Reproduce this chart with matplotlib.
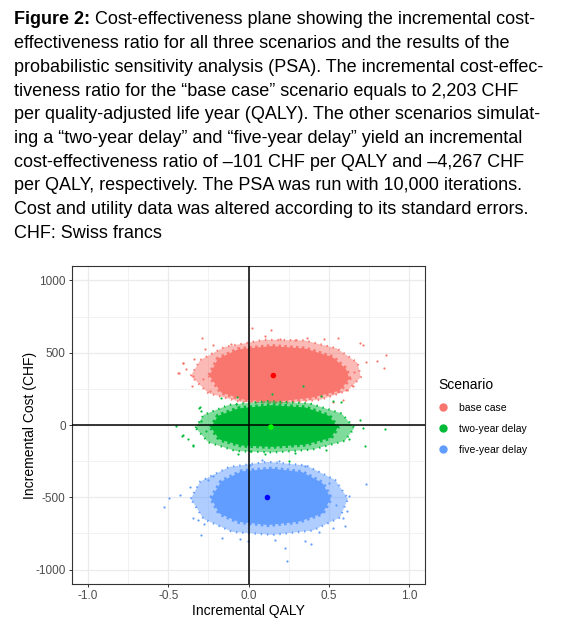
import matplotlib.pyplot as plt
from matplotlib.lines import Line2D
from matplotlib.ticker import MultipleLocator

# caption lines (figure legend text above the chart)
caption_bold = "Figure 2:"
caption_lines = [
    " Cost-effectiveness plane showing the incremental cost-",
    "effectiveness ratio for all three scenarios and the results of the",
    "probabilistic sensitivity analysis (PSA). The incremental cost-effec-",
    "tiveness ratio for the \u201cbase case\u201d scenario equals to 2,203 CHF",
    "per quality-adjusted life year (QALY). The other scenarios simulat-",
    "ing a \u201ctwo-year delay\u201d and \u201cfive-year delay\u201d yield an incremental",
    "cost-effectiveness ratio of \u2013101 CHF per QALY and \u20134,267 CHF",
    "per QALY, respectively. The PSA was run with 10,000 iterations.",
    "Cost and utility data was altered according to its standard errors.",
    "CHF: Swiss francs",
]

scenarios = ["base case", "two-year delay", "five-year delay"]

# dense part of each PSA cloud (outline)
base_core_q = [-0.244, -0.191, -0.065, 0.145, 0.355, 0.524, 0.608, 0.629, 0.566, 0.397, 0.166, -0.023, -0.170]
base_core_c = [342, 458, 523, 546, 528, 469, 388, 319, 237, 190, 160, 174, 225]
two_core_q = [-0.233, -0.191, -0.065, 0.145, 0.355, 0.503, 0.555, 0.513, 0.355, 0.145, -0.044, -0.181]
two_core_c = [-19, 63, 114, 137, 121, 63, -19, -88, -135, -151, -142, -100]
five_core_q = [-0.233, -0.170, -0.044, 0.145, 0.334, 0.461, 0.513, 0.461, 0.313, 0.124, -0.065, -0.181]
five_core_c = [-507, -391, -321, -302, -326, -402, -507, -612, -669, -692, -669, -612]

# thinner outer band of each cloud
base_fringe_q = [-0.36, -0.30, -0.15, 0.10, 0.35, 0.55, 0.68, 0.70, 0.62, 0.45, 0.20, -0.05, -0.25]
base_fringe_c = [340, 450, 540, 590, 585, 530, 430, 330, 240, 175, 150, 160, 220]
two_fringe_q = [-0.33, -0.28, -0.12, 0.12, 0.38, 0.58, 0.66, 0.60, 0.40, 0.15, -0.08, -0.25]
two_fringe_c = [-20, 70, 140, 165, 150, 80, -20, -110, -170, -190, -180, -120]
five_fringe_q = [-0.36, -0.30, -0.12, 0.12, 0.36, 0.54, 0.62, 0.57, 0.40, 0.15, -0.10, -0.28]
five_fringe_c = [-510, -390, -290, -255, -280, -380, -510, -640, -730, -760, -740, -650]

# scattered PSA iterations outside the dense part
base_pts_q = [-0.290, 0.019, 0.141, 0.103, 0.198, 0.288, 0.366, 0.471, 0.559, 0.692, 0.713, -0.271, -0.339,
              -0.408, -0.437, -0.349, -0.355, 0.734, 0.803, 0.854, 0.843, 0.660, 0.650, 0.608, -0.240, -0.286,
              0.587, 0.524, -0.223, -0.107, -0.391, -0.406, -0.433]
base_pts_c = [604, 672, 658, 616, 593, 586, 604, 593, 602, 565, 551, 523, 458, 430, 360, 337, 272, 439, 446,
              481, 395, 365, 272, 244, 237, 319, 174, 160, 551, 563, 388, 432, 358]
two_pts_q = [-0.307, -0.297, -0.412, -0.349, -0.380, -0.297, -0.265, 0.692, 0.713, 0.850, 0.728, 0.576, 0.524,
             0.629, 0.481, 0.292, -0.065, 0.008, 0.103, 0.250, -0.076, 0.339, 0.145, -0.170, -0.069, 0.450,
             -0.301, -0.450, -0.406, -0.349]
two_pts_c = [121, 98, -77, -142, -95, 28, -42, 35, -19, -30, -142, 160, 167, -100, -170, -193, -204, -181,
             -204, -251, 144, 272, 214, 190, 197, 202, 125, -5, -72, -135]
five_pts_q = [-0.528, -0.497, -0.427, -0.364, -0.349, -0.276, -0.317, -0.166, -0.055, -0.006, 0.166, 0.229,
              0.240, 0.355, 0.387, 0.734, 0.629, 0.612, 0.604, 0.587, 0.524, 0.545, 0.503, 0.355, 0.187, 0.082,
              0.008, -0.223, -0.254, -0.297, 0.440]
five_pts_c = [-569, -507, -484, -430, -642, -688, -658, -781, -790, -804, -797, -849, -941, -804, -821, -407,
              -490, -595, -697, -646, -716, -553, -402, -281, -246, -239, -274, -356, -379, -762, -739]

# deterministic ICER points
icer_q = [0.155, 0.140, 0.118]
icer_c = [342, -14, -502]

cloud_colors = ["#F8766D", "#00BA38", "#619CFF"]
icer_colors = ["#FF0000", "#00FF00", "#0000FF"]

plt.rcParams['font.family'] = ['Liberation Sans', 'DejaVu Sans']

fig = plt.figure(figsize=(5.63, 6.31), dpi=100)

# caption
H = 631.0
fs = 13
line_y = [20 + 23.7 * i for i in range(len(caption_lines))]
bold = fig.text(14 / 563, 1 - line_y[0] / H, caption_bold, fontsize=fs, fontweight='bold',
                va='center', ha='left')
fig.canvas.draw()
bb = bold.get_window_extent()
fig.text(bb.x1 / fig.bbox.width, 1 - line_y[0] / H, caption_lines[0], fontsize=fs, va='center', ha='left')
for i in range(1, len(caption_lines)):
    fig.text(14 / 563, 1 - line_y[i] / H, caption_lines[i], fontsize=fs, va='center', ha='left')

ax = fig.add_axes([72 / 563, 1 - 584 / H, (425 - 72) / 563, (584 - 266) / H])

cores = [(base_core_q, base_core_c), (two_core_q, two_core_c), (five_core_q, five_core_c)]
fringes = [(base_fringe_q, base_fringe_c), (two_fringe_q, two_fringe_c), (five_fringe_q, five_fringe_c)]
pts = [(base_pts_q, base_pts_c), (two_pts_q, two_pts_c), (five_pts_q, five_pts_c)]
for (cq, cc), (fq, fc), (pq, pc), col in zip(cores, fringes, pts, cloud_colors):
    ax.fill(fq, fc, color=col, alpha=0.5, lw=0, zorder=2)
    ax.plot(fq + fq[:1], fc + fc[:1], color=col, lw=1.6, ls=(0, (0.6, 2.2)), zorder=2)
    ax.fill(cq, cc, color=col, lw=0, zorder=2)
    ax.plot(cq + cq[:1], cc + cc[:1], color=col, lw=3.0, ls=(0, (0.6, 0.8)), zorder=2)
    ax.scatter(pq, pc, s=2.5, color=col, lw=0, zorder=2)

ax.axhline(0, color='black', lw=1.1, zorder=3)
ax.axvline(0, color='black', lw=1.1, zorder=3)
ax.scatter(icer_q, icer_c, s=16, color=icer_colors, lw=0, zorder=4)

ax.set_xlim(-1.1, 1.1)
ax.set_ylim(-1100, 1100)
ax.xaxis.set_major_locator(MultipleLocator(0.5))
ax.xaxis.set_minor_locator(MultipleLocator(0.25))
ax.yaxis.set_major_locator(MultipleLocator(500))
ax.yaxis.set_minor_locator(MultipleLocator(250))
ax.xaxis.set_major_formatter(plt.FuncFormatter(lambda v, p: f"{v:.1f}"))
ax.yaxis.set_major_formatter(plt.FuncFormatter(lambda v, p: f"{int(round(v))}"))
ax.grid(True, which='major', color='#EBEBEB', lw=0.9, zorder=0)
ax.grid(True, which='minor', color='#EBEBEB', lw=0.45, zorder=0)
ax.set_axisbelow(True)
ax.tick_params(which='major', length=2.5, width=0.7, color='#333333', labelcolor='#4D4D4D', labelsize=8.5, pad=2)
ax.tick_params(which='minor', length=0)
for s in ax.spines.values():
    s.set_color('#333333')
    s.set_linewidth(0.8)

ax.set_xlabel("Incremental QALY", fontsize=10, labelpad=1)
ax.set_ylabel("Incremental Cost (CHF)", fontsize=10, labelpad=-1)

handles = [Line2D([], [], marker='o', ls='', color=c, markersize=5) for c in cloud_colors]
fig.legend(handles, scenarios, loc='upper left', bbox_to_anchor=(434 / 563, 1 - 374 / H), frameon=False,
           title="Scenario", title_fontsize=10, fontsize=7.5, alignment='left', labelspacing=1.05,
           handlelength=1.0, handletextpad=1.0, borderaxespad=0)

fig.savefig("out.png", dpi=100)
